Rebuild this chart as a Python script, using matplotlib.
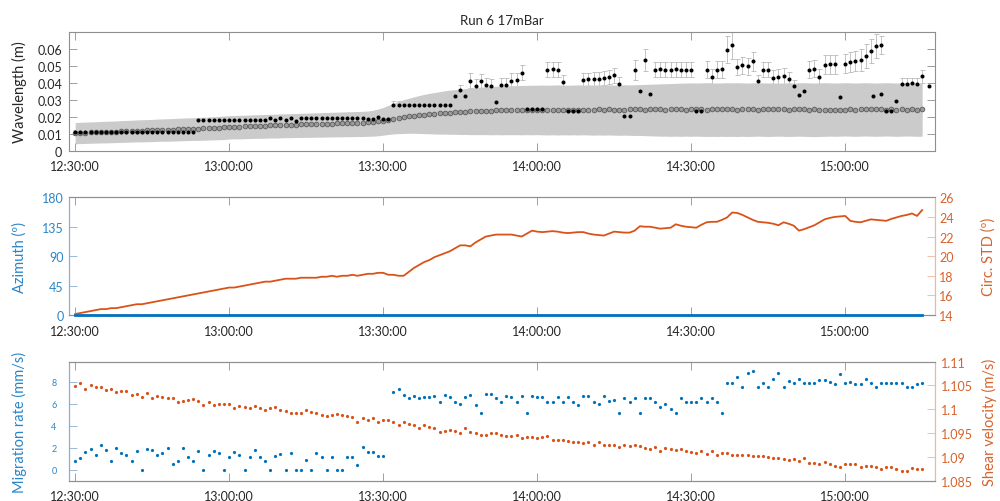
import matplotlib
matplotlib.use("Agg")
import matplotlib.pyplot as plt
import numpy as np

plt.rcParams["font.family"] = ["Lato", "DejaVu Sans"]

BLUE = "#0072BD"
ORANGE = "#D95319"
BLUE_TXT = "#2a86c8"
ORANGE_TXT = "#d9622b"
GREY = "#8f8f8f"

# time axis: minutes after 12:30:00, one sample per minute
tick_minutes = [0, 30, 60, 90, 120, 150]
tick_labels = ["12:30:00", "13:00:00", "13:30:00", "14:00:00", "14:30:00", "15:00:00"]

# ---- top panel: wavelength (mm) ----
wl_mean_mm = [
    10.5, 10.6, 10.7, 10.8, 10.9, 11.0, 11.1, 11.2, 11.3, 11.4,
    11.6, 11.7, 11.8, 11.9, 12.0, 12.1, 12.2, 12.3, 12.4, 12.5,
    12.7, 12.8, 12.9, 13.0, 13.1, 13.2, 13.4, 13.5, 13.7, 13.9,
    14.1, 14.2, 14.3, 14.4, 14.5, 14.6, 14.7, 14.8, 14.9, 15.0,
    15.1, 15.2, 15.3, 15.4, 15.5, 15.5, 15.6, 15.7, 15.8, 15.9,
    16.0, 16.1, 16.2, 16.3, 16.4, 16.5, 16.6, 16.8, 17.0, 17.3,
    17.6, 18.0, 18.6, 19.2, 19.8, 20.3, 20.7, 21.0, 21.3, 21.6,
    21.8, 22.0, 22.2, 22.4, 22.6, 22.8, 23.0, 23.2, 23.4, 23.5,
    23.6, 23.7, 23.8, 23.9, 24.0, 24.0, 24.1, 24.1, 24.2, 24.2,
    24.3, 24.3, 24.2, 24.3, 24.2, 24.1, 24.2, 24.0, 24.1, 24.2,
    24.3, 24.3, 24.4, 24.3, 24.4, 24.3, 24.3, 24.2, 24.4, 24.5,
    24.4, 24.3, 24.4, 24.5, 24.4, 24.3, 24.4, 24.5, 24.4, 24.3,
    24.4, 24.5, 24.4, 24.3, 24.4, 24.5, 24.6, 24.5, 24.4, 24.3,
    24.4, 24.5, 24.4, 24.3, 24.4, 24.5, 24.6, 24.5, 24.4, 24.3,
    24.4, 24.5, 24.4, 24.3, 24.4, 24.3, 24.2, 24.1, 24.0, 24.1,
    24.3, 24.4, 24.3, 24.4, 24.5, 24.4, 24.5, 24.4, 24.3, 24.4,
    24.3, 24.4, 24.3, 24.4, 24.3, 24.4,
]
wl_band_lo_mm = [
    4.1, 4.2, 4.3, 4.4, 4.5, 4.6, 4.6, 4.7, 4.8, 4.9,
    5.0, 5.1, 5.2, 5.2, 5.3, 5.4, 5.5, 5.6, 5.6, 5.7,
    5.8, 5.9, 6.0, 6.1, 6.1, 6.2, 6.3, 6.4, 6.5, 6.6,
    6.9, 7.0, 7.0, 7.1, 7.2, 7.3, 7.3, 7.4, 7.5, 7.5,
    7.6, 7.7, 7.7, 7.8, 7.8, 7.9, 7.9, 8.0, 8.0, 8.1,
    8.1, 8.2, 8.2, 8.3, 8.3, 8.4, 8.4, 8.5, 8.6, 8.8,
    9.2, 9.6, 9.9, 10.1, 10.2, 10.3, 10.3, 10.2, 10.1, 10.0,
    9.9, 9.8, 9.8, 9.7, 9.7, 9.6, 9.6, 9.5, 9.5, 9.5,
    9.5, 9.4, 9.5, 9.4, 9.5, 9.4, 9.5, 9.4, 9.5, 9.4,
    9.5, 9.4, 9.3, 9.4, 9.3, 9.4, 9.3, 9.4, 9.3, 9.4,
    9.3, 9.2, 9.3, 9.2, 9.3, 9.2, 9.1, 9.2, 9.1, 9.0,
    9.0, 8.9, 8.8, 8.7, 8.6, 8.6, 8.5, 8.6, 8.5, 8.6,
    8.5, 8.6, 8.5, 8.4, 8.5, 8.4, 8.5, 8.4, 8.5, 8.4,
    8.5, 8.4, 8.5, 8.6, 8.5, 8.4, 8.5, 8.6, 8.5, 8.4,
    8.5, 8.6, 8.5, 8.4, 8.3, 8.4, 8.5, 8.6, 8.5, 8.6,
    8.7, 8.6, 8.5, 8.6, 8.7, 8.6, 8.5, 8.6, 8.7, 8.6,
    8.5, 8.6, 8.7, 8.6, 8.5, 8.6,
]
wl_band_hi_mm = [
    16.6, 16.8, 16.9, 17.0, 17.1, 17.3, 17.4, 17.5, 17.6, 17.8,
    17.9, 18.0, 18.2, 18.3, 18.4, 18.5, 18.7, 18.8, 18.9, 19.0,
    19.2, 19.3, 19.4, 19.5, 19.7, 19.8, 19.9, 20.1, 20.3, 20.5,
    20.7, 20.8, 20.9, 21.0, 21.1, 21.2, 21.3, 21.4, 21.5, 21.6,
    21.7, 21.8, 21.9, 22.0, 22.1, 22.2, 22.3, 22.4, 22.5, 22.6,
    22.7, 22.8, 22.9, 23.0, 23.1, 23.2, 23.3, 23.5, 23.9, 24.6,
    25.6, 26.8, 28.0, 29.2, 30.2, 31.0, 31.8, 32.6, 33.3, 33.9,
    34.4, 34.9, 35.4, 35.8, 36.1, 36.4, 36.7, 37.0, 37.3, 37.6,
    37.8, 38.0, 38.1, 38.2, 38.3, 38.4, 38.5, 38.6, 38.6, 38.7,
    38.7, 38.8, 38.7, 38.8, 38.9, 38.8, 38.7, 38.8, 38.9, 38.8,
    38.9, 38.8, 38.9, 39.0, 38.9, 38.8, 38.9, 39.0, 38.9, 39.0,
    39.1, 39.2, 39.3, 39.4, 39.5, 39.6, 39.7, 39.8, 39.9, 40.0,
    40.1, 40.0, 40.1, 40.2, 40.1, 40.0, 40.1, 40.2, 40.1, 40.2,
    40.1, 40.0, 40.1, 40.2, 40.1, 40.0, 40.1, 39.9, 40.0, 40.1,
    40.0, 40.1, 40.2, 40.1, 40.0, 40.1, 40.2, 40.1, 40.0, 40.1,
    40.2, 40.1, 40.0, 40.1, 40.2, 40.1, 40.0, 40.1, 40.2, 40.1,
    40.0, 40.1, 40.2, 40.1, 40.0, 40.1,
]
wl_point_mm = [
    10.8, 10.8, 10.8, 10.8, 10.8, 10.8, 10.8, 10.8, 10.8, 10.8,
    10.8, 10.8, 10.8, 10.8, 10.8, 10.8, 10.8, 10.8, 10.8, 10.8,
    10.8, 10.8, 10.8, 10.8, 17.9, 17.9, 17.9, 17.9, 17.9, 17.9,
    17.9, 17.9, 17.9, 17.9, 17.9, 17.9, 17.9, 17.9, 19.3, 18.0,
    19.3, 18.0, 19.3, 17.4, 19.4, 19.4, 19.4, 19.4, 19.4, 19.4,
    19.4, 19.4, 19.4, 19.4, 19.4, 19.4, 19.4, 18.8, 18.8, 19.9,
    18.8, 18.8, 27.2, 27.2, 27.2, 27.2, 27.2, 27.2, 27.2, 27.2,
    27.2, 27.2, 27.2, 27.2, 32.6, 36.1, 32.6, 41.4, 38.1, 41.0,
    38.7, 38.5, 28.6, 38.7, 38.9, 41.4, 41.6, 46.0, 24.9, 24.9,
    24.9, 24.9, 48.0, 48.1, 48.0, 40.7, 23.3, 23.3, 23.3, 42.0,
    42.2, 42.4, 42.6, 43.0, 43.6, 44.5, 39.5, 20.3, 20.3, 47.6,
    35.1, 53.5, 33.6, 48.0, 48.1, 47.9, 48.0, 48.2, 48.0, 47.9,
    48.0, 23.7, 23.7, 47.8, 43.6, 48.0, 48.2, 59.8, 62.2, 49.5,
    50.6, 50.0, 52.9, 41.0, 48.0, 48.0, 43.0, 43.6, 44.2, 42.4,
    38.1, 33.2, 35.5, 48.0, 48.5, 43.6, 50.9, 51.0, 51.0, 31.6,
    51.5, 52.3, 53.0, 53.9, 55.8, 58.8, 61.8, 62.4, 23.3, 23.3,
    29.6, 39.7, 39.7, 39.9, 39.7, 44.0,
]
wl_err_mm = [
    1.5, 1.5, 1.5, 1.5, 1.5, 1.5, 1.5, 1.5, 1.5, 1.5,
    1.5, 1.5, 1.5, 1.5, 1.5, 1.5, 1.5, 1.5, 1.5, 1.5,
    1.5, 1.5, 1.5, 1.5, 1.5, 1.5, 1.5, 1.5, 1.5, 1.5,
    1.5, 1.5, 1.5, 1.5, 1.5, 1.5, 1.5, 1.5, 1.5, 1.5,
    1.5, 1.5, 1.5, 1.5, 1.5, 1.5, 1.5, 1.5, 1.5, 1.5,
    1.5, 1.5, 1.5, 1.5, 1.5, 1.5, 1.5, 1.5, 1.5, 1.5,
    1.5, 1.5, 2.0, 2.0, 2.0, 2.0, 2.0, 2.0, 2.0, 2.0,
    2.0, 2.0, 2.0, 2.0, 2.5, 3.0, 2.5, 4.5, 4.0, 4.5,
    4.0, 4.0, 2.0, 4.0, 4.0, 4.5, 4.5, 4.4, 2.0, 2.0,
    2.0, 2.0, 4.3, 4.3, 4.3, 4.0, 2.0, 2.0, 2.0, 4.0,
    4.0, 4.0, 4.2, 4.2, 4.3, 4.5, 4.0, 2.0, 2.0, 6.0,
    3.0, 6.6, 3.0, 4.5, 4.5, 4.5, 4.5, 4.5, 4.5, 4.5,
    4.5, 2.0, 2.0, 5.0, 4.5, 5.0, 5.0, 8.0, 8.0, 5.0,
    5.0, 5.0, 5.5, 4.0, 4.5, 4.5, 4.5, 4.5, 4.5, 4.0,
    3.5, 2.5, 3.0, 5.0, 5.0, 4.5, 5.5, 5.5, 5.5, 2.5,
    5.5, 6.0, 6.0, 6.5, 7.0, 7.0, 7.0, 5.5, 2.0, 2.0,
    2.5, 3.0, 3.0, 3.0, 3.0, 4.0,
]
# a few isolated measurements between the regular samples
wl_extra_min = [155.4, 156.9, 166.4]
wl_extra_mm = [32.6, 33.5, 38.5]

# ---- middle panel ----
azimuth_deg = [0.0] * 166
circ_std_deg = [
    14.1, 14.2, 14.3, 14.4, 14.5, 14.6, 14.6, 14.7, 14.7, 14.8,
    14.9, 15.0, 15.1, 15.1, 15.2, 15.3, 15.4, 15.5, 15.6, 15.7,
    15.8, 15.9, 16.0, 16.1, 16.2, 16.3, 16.4, 16.5, 16.6, 16.7,
    16.8, 16.8, 16.9, 17.0, 17.1, 17.2, 17.3, 17.4, 17.4, 17.5,
    17.6, 17.7, 17.7, 17.7, 17.8, 17.8, 17.8, 17.8, 17.9, 17.9,
    18.0, 17.9, 18.0, 18.0, 18.1, 18.0, 18.1, 18.2, 18.2, 18.3,
    18.3, 18.1, 18.1, 18.0, 18.0, 18.4, 18.8, 19.1, 19.4, 19.6,
    19.9, 20.1, 20.3, 20.5, 20.8, 21.1, 21.1, 21.0, 21.4, 21.7,
    22.0, 22.1, 22.2, 22.2, 22.2, 22.2, 22.1, 22.0, 22.3, 22.6,
    22.5, 22.45, 22.5, 22.55, 22.5, 22.4, 22.35, 22.4, 22.45, 22.45,
    22.3, 22.2, 22.15, 22.1, 22.3, 22.5, 22.45, 22.4, 22.4, 22.6,
    23.05, 23.0, 23.0, 22.9, 22.8, 22.85, 22.9, 23.25, 23.1, 23.0,
    22.95, 22.9, 23.2, 23.45, 23.5, 23.5, 23.7, 23.95, 24.45, 24.4,
    24.2, 23.95, 23.7, 23.5, 23.45, 23.4, 23.3, 23.15, 23.45, 23.3,
    23.1, 22.6, 22.75, 22.95, 23.15, 23.45, 23.75, 23.9, 24.0, 24.05,
    24.1, 23.6, 23.5, 23.45, 23.6, 23.75, 23.7, 23.65, 23.6, 23.8,
    23.95, 24.1, 24.2, 24.35, 24.1, 24.7,
]

# ---- bottom panel ----
nan = float("nan")
migration_mm_s = [
    0.82, 1.06, 1.63, 1.87, 1.33, 2.27, 1.81, 0.82, 1.96, 1.51,
    1.36, 0.82, 1.72, 0.0, 1.84, 1.78, 1.33, 1.54, 1.99, 0.48,
    0.79, 1.99, 1.18, 0.76, 1.69, 0.0, 1.30, 1.72, 1.54, 0.0,
    1.15, 1.57, 1.33, 0.0, 1.12, 1.78, 1.18, 0.76, 0.0, 1.21,
    1.39, 0.0, 1.51, 0.0, 0.0, 0.88, 0.0, 1.51, 1.18, 0.0,
    1.18, 0.0, 0.0, 1.18, 1.18, 0.42, 2.02, 1.57, 1.57, 1.21,
    1.21, nan, 7.06, 7.36, 6.79, 6.52, 6.73, 6.52, 6.58, 6.58,
    6.73, 6.18, 6.82, 6.58, 6.18, 5.94, 6.61, 6.76, 5.88, 5.16,
    6.85, 6.85, 6.55, 6.15, 6.73, 6.58, 6.15, 6.73, 5.16, 6.70,
    6.58, 6.58, 6.18, 6.18, 6.58, 6.18, 6.58, 6.18, 5.88, 6.70,
    6.70, 6.12, 5.94, 6.70, 6.21, 6.30, 5.19, 6.52, 6.18, 6.52,
    5.16, 6.52, 6.52, 6.18, 5.70, 5.94, 5.49, 5.19, 6.52, 6.18,
    6.18, 6.18, 6.52, 6.18, 6.52, 6.18, 5.19, 7.90, 7.90, 8.39,
    7.51, 8.75, 8.93, 7.54, 7.90, 7.54, 8.21, 8.75, 7.51, 8.06,
    7.88, 8.27, 7.88, 7.88, 7.88, 8.12, 8.12, 7.93, 7.78, 8.72,
    7.88, 7.93, 7.78, 7.78, 8.27, 7.88, 7.51, 7.88, 7.88, 7.88,
    7.88, 7.88, 7.48, 7.48, 7.78, 7.88,
]
shear_m_s = [
    1.1048, 1.1055, 1.1042, 1.1051, 1.1047, 1.1046, 1.1041, 1.1042, 1.1037, 1.1038,
    1.1038, 1.1030, 1.1032, 1.1026, 1.1034, 1.1024, 1.1027, 1.1026, 1.1023, 1.1023,
    1.1015, 1.1018, 1.1019, 1.1022, 1.1017, 1.1008, 1.1015, 1.1009, 1.1011, 1.1011,
    1.1011, 1.1003, 1.1006, 1.1005, 1.1002, 1.1006, 1.1003, 1.0999, 1.1002, 1.1005,
    1.0999, 1.0997, 1.0993, 1.0993, 1.0993, 1.0999, 1.0994, 1.0993, 1.0989, 1.0986,
    1.0987, 1.0990, 1.0987, 1.0985, 1.0983, 1.0974, 1.0981, 1.0977, 1.0981, 1.0974,
    1.0978, 1.0978, 1.0973, 1.0967, 1.0973, 1.0969, 1.0968, 1.0961, 1.0966, 1.0963,
    1.0960, 1.0953, 1.0955, 1.0957, 1.0955, 1.0950, 1.0960, 1.0953, 1.0950, 1.0947,
    1.0946, 1.0950, 1.0951, 1.0945, 1.0944, 1.0943, 1.0946, 1.0939, 1.0942, 1.0942,
    1.0940, 1.0942, 1.0944, 1.0935, 1.0936, 1.0935, 1.0933, 1.0931, 1.0931, 1.0930,
    1.0931, 1.0926, 1.0932, 1.0925, 1.0925, 1.0925, 1.0921, 1.0925, 1.0923, 1.0925,
    1.0923, 1.0918, 1.0917, 1.0920, 1.0912, 1.0919, 1.0917, 1.0914, 1.0917, 1.0913,
    1.0911, 1.0908, 1.0912, 1.0906, 1.0913, 1.0905, 1.0908, 1.0908, 1.0903, 1.0903,
    1.0904, 1.0904, 1.0902, 1.0901, 1.0901, 1.0899, 1.0897, 1.0897, 1.0896, 1.0894,
    1.0896, 1.0892, 1.0897, 1.0888, 1.0888, 1.0886, 1.0889, 1.0886, 1.0881, 1.0878,
    1.0886, 1.0886, 1.0886, 1.0878, 1.0881, 1.0881, 1.0878, 1.0875, 1.0878, 1.0878,
    1.0874, 1.0871, 1.0870, 1.0876, 1.0874, 1.0874,
]


def style_axes(ax, left_col=GREY, right_col=GREY):
    for side in ("top", "bottom"):
        ax.spines[side].set_color(GREY)
        ax.spines[side].set_linewidth(0.8)
    ax.spines["left"].set_color(left_col)
    ax.spines["right"].set_color(right_col)
    ax.spines["left"].set_linewidth(0.8)
    ax.spines["right"].set_linewidth(0.8)


def style_time_axis(ax):
    ax.set_xlim(-1.2, 167.5)
    ax.set_xticks(tick_minutes)
    ax.set_xticklabels(tick_labels)
    ax.tick_params(axis="x", direction="in", top=True, length=5.5, width=0.6,
                   color=GREY, labelsize=9, pad=7, labelcolor="#262626")


fig = plt.figure(figsize=(10, 5.02), dpi=100)
ax_wl = fig.add_axes([0.069, 0.6978, 0.866, 0.2359])
ax_az = fig.add_axes([0.069, 0.3705, 0.866, 0.2345])
ax_mr = fig.add_axes([0.069, 0.0404, 0.866, 0.2371])

# ---------- top ----------
t = np.arange(len(wl_mean_mm))
mm = 1e-3
ax_wl.errorbar(np.arange(len(wl_point_mm)), np.array(wl_point_mm) * mm,
               yerr=np.array(wl_err_mm) * mm, fmt="none", ecolor="#b9b9b9",
               elinewidth=0.6, capsize=1.8, capthick=0.6, zorder=1)
ax_wl.fill_between(t, np.array(wl_band_lo_mm) * mm, np.array(wl_band_hi_mm) * mm,
                   color="#cbcbcb", lw=0, zorder=2)
ax_wl.plot(t, np.array(wl_mean_mm) * mm, "o", ms=3.4, mfc="#9a9a9a",
           mec="#555555", mew=0.55, zorder=3)
ax_wl.plot(np.arange(len(wl_point_mm)), np.array(wl_point_mm) * mm, "o",
           ms=2.9, color="black", mew=0, zorder=4)
ax_wl.plot(wl_extra_min, np.array(wl_extra_mm) * mm, "o", ms=2.9,
           color="black", mew=0, zorder=4)
ax_wl.set_ylim(0, 0.07)
ax_wl.set_yticks([0, 0.01, 0.02, 0.03, 0.04, 0.05, 0.06])
ax_wl.set_yticklabels(["0", "0.01", "0.02", "0.03", "0.04", "0.05", "0.06"])
ax_wl.tick_params(axis="y", direction="in", right=True, length=5.5, width=0.6,
                  color=GREY, labelsize=9, pad=5, labelcolor="#262626")
style_time_axis(ax_wl)
style_axes(ax_wl)
ax_wl.set_ylabel("Wavelength (m)", fontsize=10.5, color="#262626")
ax_wl.yaxis.set_label_coords(-0.0485, 0.5)
ax_wl.set_title("Run 6 17mBar", fontsize=9.5, color="#262626", pad=6)

# ---------- middle ----------
ax_std = ax_az.twinx()
ax_az.plot(np.arange(len(azimuth_deg)), azimuth_deg, color=BLUE, lw=2.0,
           zorder=3, clip_on=False)
ax_std.plot(np.arange(len(circ_std_deg)), circ_std_deg, color=ORANGE, lw=1.3)
ax_az.set_ylim(0, 180)
ax_az.set_yticks([0, 45, 90, 135, 180])
ax_std.set_ylim(14, 26)
ax_std.set_yticks([14, 16, 18, 20, 22, 24, 26])
style_time_axis(ax_az)
ax_az.tick_params(axis="y", direction="in", length=5.5, width=0.6,
                  color="#8aaed0", labelsize=9, pad=4, labelcolor=BLUE_TXT)
ax_std.tick_params(axis="y", direction="in", length=5.5, width=0.6,
                   color="#ebb89c", labelsize=9, pad=3, labelcolor=ORANGE_TXT)
for a in (ax_az, ax_std):
    style_axes(a, "#8aaed0", "#ebb89c")
ax_az.set_ylabel("Azimuth (º)", fontsize=10.5, color=BLUE_TXT)
ax_az.yaxis.set_label_coords(-0.0485, 0.5)
ax_std.set_ylabel("Circ. STD (º)", fontsize=10.5, color=ORANGE_TXT)
ax_std.yaxis.set_label_coords(1.054, 0.5)
ax_az.set_zorder(ax_std.get_zorder() + 1)
ax_az.patch.set_visible(False)

# ---------- bottom ----------
ax_sv = ax_mr.twinx()
ax_mr.plot(np.arange(len(migration_mm_s)), migration_mm_s, "o", ms=2.3,
           color=BLUE, mew=0)
ax_sv.plot(np.arange(len(shear_m_s)), shear_m_s, "o", ms=2.3,
           color=ORANGE, mew=0)
ax_mr.set_ylim(-1, 9.8)
ax_mr.set_yticks([0, 2, 4, 6, 8])
ax_sv.set_ylim(1.085, 1.11)
ax_sv.set_yticks([1.085, 1.09, 1.095, 1.1, 1.105, 1.11])
ax_sv.set_yticklabels(["1.085", "1.09", "1.095", "1.1", "1.105", "1.11"])
style_time_axis(ax_mr)
ax_mr.tick_params(axis="y", direction="in", length=5.5, width=0.6,
                  color="#8aaed0", labelsize=6.5, pad=9, labelcolor=BLUE_TXT)
ax_sv.tick_params(axis="y", direction="in", length=5.5, width=0.6,
                  color="#ebb89c", labelsize=9, pad=4, labelcolor=ORANGE_TXT)
for a in (ax_mr, ax_sv):
    style_axes(a, "#8aaed0", "#ebb89c")
ax_mr.set_ylabel("Migration rate (mm/s)", fontsize=10.5, color=BLUE_TXT)
ax_mr.yaxis.set_label_coords(-0.0485, 0.5)
ax_sv.set_ylabel("Shear velocity (m/s)", fontsize=10.5, color=ORANGE_TXT)
ax_sv.yaxis.set_label_coords(1.054, 0.5)

fig.savefig("out.png", dpi=100)
